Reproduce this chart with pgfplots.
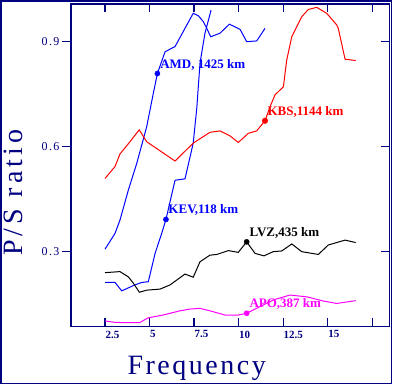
\documentclass[border=0pt]{standalone}
\usepackage{pgfplots}
\pgfplotsset{compat=1.18}
\usepackage{fontspec}
\setmainfont{Liberation Serif}
\newfontfamily\freqfont{Liberation Serif}[LetterSpace=9]
\newfontfamily\ratiofont{Liberation Serif}[LetterSpace=15]
\newfontfamily\tickfont{Liberation Serif}[LetterSpace=12]
\definecolor{navy}{RGB}{0,0,128}
\definecolor{dblue}{RGB}{0,0,255}
\definecolor{dred}{RGB}{255,0,0}
\definecolor{dmag}{RGB}{255,0,255}
\begin{document}
\begin{tikzpicture}
\useasboundingbox (0pt,0pt) rectangle (393pt,385pt);
\draw[navy,line width=1.6pt] (1pt,1.5pt) rectangle (391.5pt,384pt);
\begin{axis}[
  at={(71pt,58.3pt)}, anchor=south west,
  width=318.5pt, height=322.7pt, scale only axis,
  xmin=0.592, xmax=18.465, ymin=0.0846, ymax=1.0066,
  axis line style={navy,line width=1.6pt},
  every tick/.style={navy,line width=1.4pt},
  major tick length=8.5pt,
  tick align=inside,
  xtick={2.5,5,7.5,10,12.5,15,17.5},
  xticklabels={2.5,5,7.5,10,12.5,15,{}},
  xtick pos=both, xticklabel pos=bottom,
  x tick label style={anchor=north west, xshift=-3pt, yshift=-0.5pt, font=\fontsize{11}{12}\selectfont\bfseries, text=navy},
  ytick={0.3,0.6,0.9}, ytick pos=right, yticklabels={},
  clip=false,
]
% AMD
\addplot[dblue, line width=1pt] coordinates {
(2.5,0.306)(3.06,0.351)(3.34,0.389)(3.81,0.475)(4.28,0.551)(4.84,0.656)(5.21,0.751)(5.44,0.808)(5.87,0.870)(6.24,0.880)(6.43,0.885)(7.45,0.980)(7.74,0.973)(8.02,0.956)(8.21,0.937)(8.43,0.913)(8.95,0.923)(9.48,0.949)(10.08,0.934)(10.45,0.899)(11.01,0.901)(11.48,0.937)};
% KEV
\addplot[dblue, line width=1pt] coordinates {
(2.5,0.211)(3.06,0.211)(3.44,0.187)(4.18,0.204)(4.56,0.211)(4.93,0.213)(5.31,0.294)(5.68,0.351)(5.92,0.391)(6.43,0.503)(6.99,0.507)(7.45,0.609)(7.65,0.709)(7.83,0.837)(8.11,0.923)(8.45,0.989)};
% KBS
\addplot[dred, line width=1pt] coordinates {
(2.5,0.508)(3.06,0.542)(3.34,0.578)(3.90,0.613)(4.42,0.647)(4.84,0.613)(6.43,0.558)(7.45,0.609)(8.39,0.640)(8.95,0.644)(9.51,0.630)(9.98,0.611)(10.54,0.637)(11.01,0.644)(11.48,0.673)(11.76,0.713)(12.04,0.747)(12.51,0.770)(12.70,0.847)(12.98,0.913)(13.54,0.970)(13.91,0.991)(14.38,0.997)(14.94,0.980)(15.50,0.947)(15.59,0.937)(15.97,0.849)(16.25,0.847)(16.57,0.845)};
% LVZ
\addplot[black, line width=1pt] coordinates {
(2.5,0.239)(3.34,0.242)(3.81,0.227)(4.09,0.209)(4.43,0.183)(4.84,0.189)(5.59,0.192)(6.15,0.204)(6.99,0.235)(7.45,0.226)(7.83,0.270)(8.39,0.289)(8.77,0.291)(9.42,0.302)(9.98,0.297)(10.45,0.327)(10.92,0.294)(11.42,0.287)(11.94,0.299)(12.42,0.301)(12.98,0.321)(13.54,0.299)(14.47,0.291)(15.03,0.318)(15.97,0.332)(16.57,0.325)};
% APO
\addplot[dmag, line width=1pt] coordinates {
(2.5,0.101)(3.06,0.097)(3.72,0.096)(4.43,0.096)(4.93,0.110)(5.77,0.118)(6.71,0.130)(7.27,0.135)(7.83,0.137)(8.39,0.130)(9.23,0.118)(9.98,0.118)(10.45,0.123)(11.01,0.137)(11.94,0.161)(12.88,0.175)(13.82,0.170)(14.75,0.158)(15.50,0.151)(16.57,0.159)};
% markers
\addplot[dblue, only marks, mark=*, mark size=2.6pt] coordinates {(5.44,0.808)(5.92,0.391)};
\addplot[dred, only marks, mark=*, mark size=2.8pt] coordinates {(11.48,0.673)};
\addplot[black, only marks, mark=*, mark size=2.6pt] coordinates {(10.45,0.327)};
\addplot[dmag, only marks, mark=*, mark size=2.6pt] coordinates {(10.45,0.123)};
% labels
\node[anchor=base west, inner sep=0pt, text=dblue, font=\fontsize{13}{14}\selectfont\bfseries] at (axis cs:5.59,0.823) {AMD, 1425 km};
\node[anchor=base west, inner sep=0pt, text=dblue, font=\fontsize{13}{14}\selectfont\bfseries] at (axis cs:6.05,0.4066) {KEV,118 km};
\node[anchor=base west, inner sep=0pt, text=dred, font=\fontsize{13}{14}\selectfont\bfseries] at (axis cs:11.61,0.689) {KBS,1144 km};
\node[anchor=base west, inner sep=0pt, text=black, font=\fontsize{13}{14}\selectfont\bfseries] at (axis cs:10.60,0.342) {LVZ,435 km};
\node[anchor=base west, inner sep=0pt, text=dmag, font=\fontsize{13}{14}\selectfont\bfseries] at (axis cs:10.60,0.140) {APO,387 km};
\end{axis}
\begin{axis}[
  at={(71pt,58.3pt)}, anchor=south west,
  width=318.5pt, height=322.7pt, scale only axis,
  xmin=0.592, xmax=18.465, ymin=0.0846, ymax=1.0066,
  axis x line=none, axis y line*=left,
  axis line style={navy,line width=1.6pt,-},
  every tick/.style={navy,line width=1.4pt},
  major tick length=9pt,
  tick align=outside,
  ytick={0.3,0.6,0.9}, yticklabels={0.3,0.6,0.9}, ytick pos=left,
  y tick label style={font=\tickfont\fontsize{12}{13}\selectfont, text=navy, xshift=1pt},
]
\end{axis}
\node[anchor=base, inner sep=0pt, text=navy, font=\freqfont\fontsize{28}{30}\selectfont] at (196.7pt,10pt) {Frequency};
\node[rotate=90, anchor=base, inner sep=0pt, text=navy, font=\ratiofont\fontsize{28}{30}\selectfont] at (22pt,192.5pt) {P/S ratio};
\end{tikzpicture}
\end{document}
